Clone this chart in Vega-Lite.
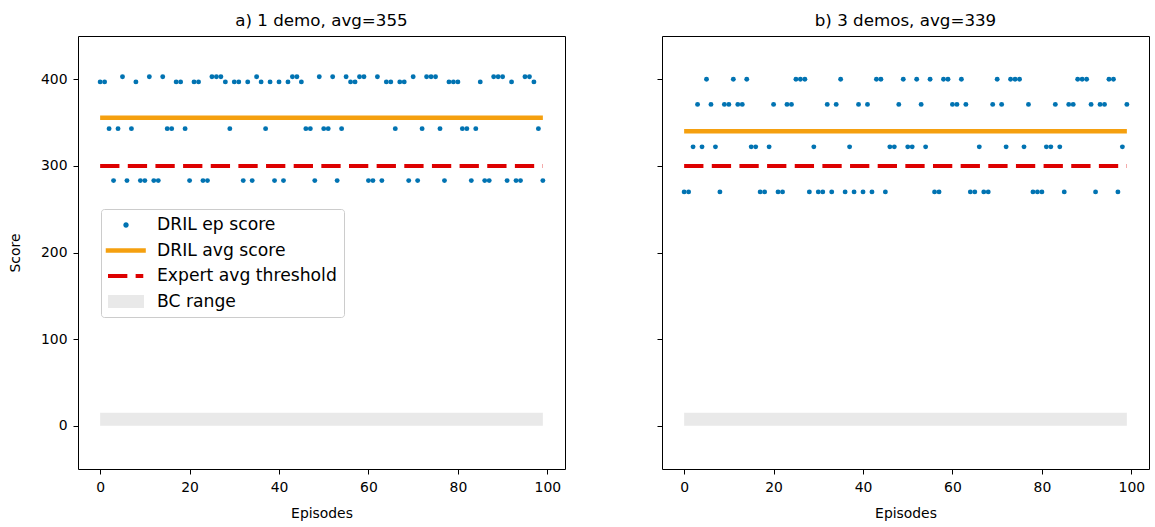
{
  "$schema": "https://vega.github.io/schema/vega-lite/v6.json",
  "padding": {"left": 7, "top": 12, "right": 0, "bottom": 0},
  "background": "white",
  "config": {
    "view": {"stroke": "#000", "strokeWidth": 1},
    "font": "DejaVu Sans",
    "axis": {"grid": false, "domain": false, "tickColor": "#000", "tickSize": 5, "tickWidth": 1, "labelColor": "#000", "labelFontSize": 13.9, "labelFont": "DejaVu Sans", "titleFont": "DejaVu Sans", "titleFontSize": 13.9, "titleFontWeight": "normal", "titleColor": "#000", "labelPadding": 6},
    "title": {"font": "DejaVu Sans", "fontSize": 16.7, "fontWeight": "normal", "color": "#000", "offset": 6, "anchor": "middle", "frame": "group"},
    "concat": {"spacing": 90}
  },
  "datasets": {
    "pa": [
      {"x":0,"y":397},{"x":1,"y":397},{"x":2,"y":343},{"x":3,"y":283},{"x":4,"y":343},{"x":5,"y":403},{"x":6,"y":283},{"x":7,"y":343},{"x":8,"y":397},{"x":9,"y":283},
      {"x":10,"y":283},{"x":11,"y":403},{"x":12,"y":283},{"x":13,"y":283},{"x":14,"y":403},{"x":15,"y":343},{"x":16,"y":343},{"x":17,"y":397},{"x":18,"y":397},{"x":19,"y":343},
      {"x":20,"y":283},{"x":21,"y":397},{"x":22,"y":397},{"x":23,"y":283},{"x":24,"y":283},{"x":25,"y":403},{"x":26,"y":403},{"x":27,"y":403},{"x":28,"y":397},{"x":29,"y":343},
      {"x":30,"y":397},{"x":31,"y":397},{"x":32,"y":283},{"x":33,"y":397},{"x":34,"y":283},{"x":35,"y":403},{"x":36,"y":397},{"x":37,"y":343},{"x":38,"y":397},{"x":39,"y":283},
      {"x":40,"y":397},{"x":41,"y":283},{"x":42,"y":397},{"x":43,"y":403},{"x":44,"y":403},{"x":45,"y":397},{"x":46,"y":343},{"x":47,"y":343},{"x":48,"y":283},{"x":49,"y":403},
      {"x":50,"y":343},{"x":51,"y":343},{"x":52,"y":403},{"x":53,"y":283},{"x":54,"y":343},{"x":55,"y":403},{"x":56,"y":397},{"x":57,"y":397},{"x":58,"y":403},{"x":59,"y":403},
      {"x":60,"y":283},{"x":61,"y":283},{"x":62,"y":403},{"x":63,"y":283},{"x":64,"y":397},{"x":65,"y":397},{"x":66,"y":343},{"x":67,"y":397},{"x":68,"y":397},{"x":69,"y":283},
      {"x":70,"y":403},{"x":71,"y":283},{"x":72,"y":343},{"x":73,"y":403},{"x":74,"y":403},{"x":75,"y":403},{"x":76,"y":343},{"x":77,"y":283},{"x":78,"y":397},{"x":79,"y":397},
      {"x":80,"y":397},{"x":81,"y":343},{"x":82,"y":343},{"x":83,"y":283},{"x":84,"y":343},{"x":85,"y":397},{"x":86,"y":283},{"x":87,"y":283},{"x":88,"y":403},{"x":89,"y":403},
      {"x":90,"y":403},{"x":91,"y":283},{"x":92,"y":397},{"x":93,"y":283},{"x":94,"y":283},{"x":95,"y":403},{"x":96,"y":403},{"x":97,"y":397},{"x":98,"y":343},{"x":99,"y":283}
    ],
    "pb": [
      {"x":0,"y":270},{"x":1,"y":270},{"x":2,"y":322},{"x":3,"y":371},{"x":4,"y":322},{"x":5,"y":400},{"x":6,"y":371},{"x":7,"y":322},{"x":8,"y":270},{"x":9,"y":371},
      {"x":10,"y":371},{"x":11,"y":400},{"x":12,"y":371},{"x":13,"y":371},{"x":14,"y":400},{"x":15,"y":322},{"x":16,"y":322},{"x":17,"y":270},{"x":18,"y":270},{"x":19,"y":322},
      {"x":20,"y":371},{"x":21,"y":270},{"x":22,"y":270},{"x":23,"y":371},{"x":24,"y":371},{"x":25,"y":400},{"x":26,"y":400},{"x":27,"y":400},{"x":28,"y":270},{"x":29,"y":322},
      {"x":30,"y":270},{"x":31,"y":270},{"x":32,"y":371},{"x":33,"y":270},{"x":34,"y":371},{"x":35,"y":400},{"x":36,"y":270},{"x":37,"y":322},{"x":38,"y":270},{"x":39,"y":371},
      {"x":40,"y":270},{"x":41,"y":371},{"x":42,"y":270},{"x":43,"y":400},{"x":44,"y":400},{"x":45,"y":270},{"x":46,"y":322},{"x":47,"y":322},{"x":48,"y":371},{"x":49,"y":400},
      {"x":50,"y":322},{"x":51,"y":322},{"x":52,"y":400},{"x":53,"y":371},{"x":54,"y":322},{"x":55,"y":400},{"x":56,"y":270},{"x":57,"y":270},{"x":58,"y":400},{"x":59,"y":400},
      {"x":60,"y":371},{"x":61,"y":371},{"x":62,"y":400},{"x":63,"y":371},{"x":64,"y":270},{"x":65,"y":270},{"x":66,"y":322},{"x":67,"y":270},{"x":68,"y":270},{"x":69,"y":371},
      {"x":70,"y":400},{"x":71,"y":371},{"x":72,"y":322},{"x":73,"y":400},{"x":74,"y":400},{"x":75,"y":400},{"x":76,"y":322},{"x":77,"y":371},{"x":78,"y":270},{"x":79,"y":270},
      {"x":80,"y":270},{"x":81,"y":322},{"x":82,"y":322},{"x":83,"y":371},{"x":84,"y":322},{"x":85,"y":270},{"x":86,"y":371},{"x":87,"y":371},{"x":88,"y":400},{"x":89,"y":400},
      {"x":90,"y":400},{"x":91,"y":371},{"x":92,"y":270},{"x":93,"y":371},{"x":94,"y":371},{"x":95,"y":400},{"x":96,"y":400},{"x":97,"y":270},{"x":98,"y":322},{"x":99,"y":371}
    ],
    "bandA": [{"series": "BC range", "x": 0, "x2": 99, "y": 0, "y2": 15}],
    "avgA": [{"series": "DRIL avg score", "x": 0, "x2": 99, "y": 355.72}],
    "thrA": [{"series": "Expert avg threshold", "x": 0, "x2": 99, "y": 300}],
    "bandB": [{"series": "BC range", "x": 0, "x2": 99, "y": 0, "y2": 15}],
    "avgB": [{"series": "DRIL avg score", "x": 0, "x2": 99, "y": 339.88}],
    "thrB": [{"series": "Expert avg threshold", "x": 0, "x2": 99, "y": 300}]
  },
  "resolve": {"scale": {"color": "independent"}, "legend": {"color": "independent"}},
  "hconcat": [
    {
      "width": 487,
      "height": 433,
      "title": "a) 1 demo, avg=355",
      "encoding": {
        "x": {"field": "x", "type": "quantitative", "scale": {"domain": [-4.95, 103.95], "nice": false, "zero": false}, "axis": {"values": [0, 20, 40, 60, 80, 100], "title": "Episodes", "titlePadding": 13}},
        "y": {"field": "y", "type": "quantitative", "scale": {"domain": [-50, 450], "nice": false, "zero": false}, "axis": {"values": [0, 100, 200, 300, 400], "title": "Score", "titlePadding": 18}}
      },
      "layer": [
        {
          "data": {"name": "bandA"},
          "mark": {"type": "rect", "opacity": 1},
          "encoding": {
            "x2": {"field": "x2"},
            "y2": {"field": "y2"},
            "color": {
              "field": "series", "type": "nominal",
              "scale": {"domain": ["DRIL ep score", "DRIL avg score", "Expert avg threshold", "BC range"], "range": ["#0173b2", "#f5a00f", "#dd0000", "#e9e9e9"]},
              "legend": {
                "title": null, "orient": "none", "legendX": 23, "legendY": 173,
                "padding": 7, "strokeColor": "#cccccc", "fillColor": "white", "cornerRadius": 3,
                "labelFont": "DejaVu Sans", "labelFontSize": 17.2, "labelColor": "#000", "labelLimit": 0,
                "symbolSize": 324, "symbolStrokeWidth": 0, "rowPadding": 7.5, "labelOffset": 31, "symbolOpacity": 1,
                "encode": {
                  "symbols": {
                    "update": {
                      "shape": {"signal": "datum.value === 'DRIL ep score' ? 'M1.3,0A0.3,0.3,0,1,1,0.7,0A0.3,0.3,0,1,1,1.3,0Z' : datum.value === 'DRIL avg score' ? 'M-1.25,-0.25H3.2V0.25H-1.25Z' : datum.value === 'Expert avg threshold' ? 'M-1,-0.22H1.15V0.22H-1ZM2.07,-0.22H2.92V0.22H2.07Z' : 'M-1,-0.72H3V0.72H-1Z'"},
                      "fill": {"signal": "datum.value === 'DRIL ep score' ? '#0173b2' : datum.value === 'DRIL avg score' ? '#f5a00f' : datum.value === 'Expert avg threshold' ? '#dd0000' : '#e9e9e9'"},
                      "stroke": {"value": "transparent"},
                      "strokeWidth": {"value": 0},
                      "size": {"value": 324},
                      "opacity": {"value": 1}
                    }
                  }
                }
              }
            }
          }
        },
        {
          "data": {"name": "avgA"},
          "mark": {"type": "rule", "strokeWidth": 4.5},
          "encoding": {
            "x2": {"field": "x2"},
            "color": {"field": "series", "type": "nominal", "scale": {"domain": ["DRIL ep score", "DRIL avg score", "Expert avg threshold", "BC range"], "range": ["#0173b2", "#f5a00f", "#dd0000", "#e9e9e9"]}}
          }
        },
        {
          "data": {"name": "thrA"},
          "mark": {"type": "rule", "strokeWidth": 4, "strokeDash": [19.3, 8.35]},
          "encoding": {
            "x2": {"field": "x2"},
            "color": {"field": "series", "type": "nominal", "scale": {"domain": ["DRIL ep score", "DRIL avg score", "Expert avg threshold", "BC range"], "range": ["#0173b2", "#f5a00f", "#dd0000", "#e9e9e9"]}}
          }
        },
        {
          "data": {"name": "pa"},
          "mark": {"type": "circle", "size": 24, "opacity": 1},
          "encoding": {
            "color": {"datum": "DRIL ep score", "type": "nominal", "scale": {"domain": ["DRIL ep score", "DRIL avg score", "Expert avg threshold", "BC range"], "range": ["#0173b2", "#f5a00f", "#dd0000", "#e9e9e9"]}}
          }
        }
      ]
    },
    {
      "width": 487,
      "height": 433,
      "title": "b) 3 demos, avg=339",
      "encoding": {
        "x": {"field": "x", "type": "quantitative", "scale": {"domain": [-4.95, 103.95], "nice": false, "zero": false}, "axis": {"values": [0, 20, 40, 60, 80, 100], "title": "Episodes", "titlePadding": 13}},
        "y": {"field": "y", "type": "quantitative", "scale": {"domain": [-50, 450], "nice": false, "zero": false}, "axis": {"values": [0, 100, 200, 300, 400], "title": null, "labels": false}}
      },
      "layer": [
        {
          "data": {"name": "bandB"},
          "mark": {"type": "rect", "opacity": 1},
          "encoding": {
            "x2": {"field": "x2"},
            "y2": {"field": "y2"},
            "color": {"field": "series", "type": "nominal", "scale": {"domain": ["DRIL ep score", "DRIL avg score", "Expert avg threshold", "BC range"], "range": ["#0173b2", "#f5a00f", "#dd0000", "#e9e9e9"]}, "legend": null}
          }
        },
        {
          "data": {"name": "avgB"},
          "mark": {"type": "rule", "strokeWidth": 4.5},
          "encoding": {
            "x2": {"field": "x2"},
            "color": {"field": "series", "type": "nominal", "scale": {"domain": ["DRIL ep score", "DRIL avg score", "Expert avg threshold", "BC range"], "range": ["#0173b2", "#f5a00f", "#dd0000", "#e9e9e9"]}, "legend": null}
          }
        },
        {
          "data": {"name": "thrB"},
          "mark": {"type": "rule", "strokeWidth": 4, "strokeDash": [19.3, 8.35]},
          "encoding": {
            "x2": {"field": "x2"},
            "color": {"field": "series", "type": "nominal", "scale": {"domain": ["DRIL ep score", "DRIL avg score", "Expert avg threshold", "BC range"], "range": ["#0173b2", "#f5a00f", "#dd0000", "#e9e9e9"]}, "legend": null}
          }
        },
        {
          "data": {"name": "pb"},
          "mark": {"type": "circle", "size": 24, "opacity": 1},
          "encoding": {
            "color": {"datum": "DRIL ep score", "type": "nominal", "scale": {"domain": ["DRIL ep score", "DRIL avg score", "Expert avg threshold", "BC range"], "range": ["#0173b2", "#f5a00f", "#dd0000", "#e9e9e9"]}, "legend": null}
          }
        }
      ]
    }
  ]
}
